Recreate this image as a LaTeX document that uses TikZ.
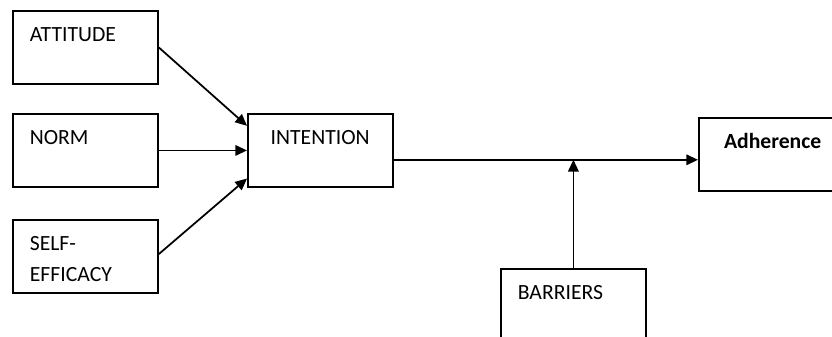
\documentclass[tikz,border=0pt]{standalone}
\usepackage{fontspec}
\setmainfont{Carlito}
\usetikzlibrary{arrows.meta,positioning}

\begin{document}
\begin{tikzpicture}[x = 0.03cm, y = -0.03cm,
  factor/.style = {draw, shape = rectangle, line width = 1.5pt, anchor = north west, align = left,
    text width = 94.8pt, inner sep = 14.5pt, text height = 11.4pt, text depth = 22pt,
    font = \fontsize{18.5}{26.5}\selectfont},
  link/.style = {line width = 1.5pt, -{Triangle[length = 10pt, width = 9pt]}}]
\useasboundingbox (0,0) rectangle (832,337);
\clip (0,0) rectangle (832,337);
\node[factor] (att) at (12,10) {ATTITUDE};
\node[factor] (norm) at (12,113) {NORM};
\node[factor] (self) at (12,219) {SELF-\\EFFICACY};
\node[factor] (int) at (247,113) {\hspace*{5pt}INTENTION};
\node[factor] (adh) at (698,117) {\hspace*{7pt}\bfseries Adherence};
\node[factor] (bar) at (500,268) {BARRIERS};
% inputs to intention
\draw[link] (att.east) -- ([yshift = 21pt]int.west);
\draw[link] (norm.east) -- (norm.east -| int.west);
\draw[link] ([yshift = 2pt]self.east) -- ([yshift = -24pt]int.west);
% intention to adherence, moderated by barriers
\coordinate (out) at ([yshift = -8pt]int.east);
\coordinate (j) at (bar.north |- out);
\draw[link] (out) -- (adh.west |- out);
\draw[link] (bar.north) -- (j);
\end{tikzpicture}
\end{document}
